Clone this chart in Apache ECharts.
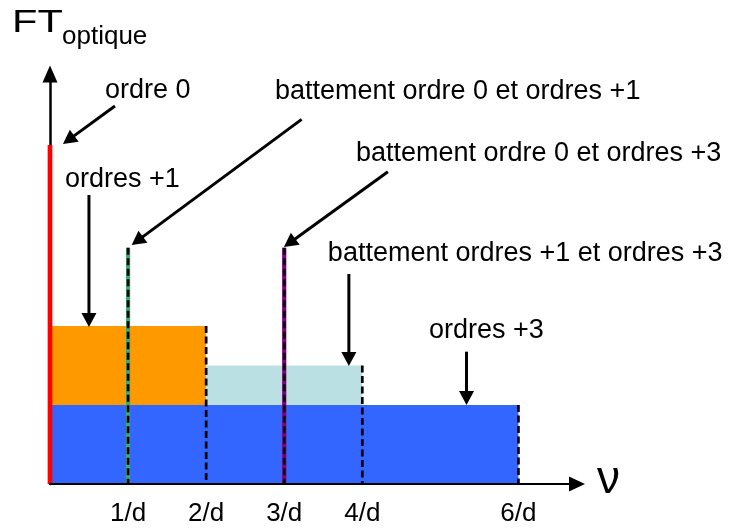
<!DOCTYPE html>
<html><head><meta charset="utf-8">
<script src="https://cdn.jsdelivr.net/npm/echarts@6/dist/echarts.min.js"></script>
<style>html,body{margin:0;padding:0;background:#fff}#c{width:731px;height:531px}</style>
</head><body><div id="c"></div>
<script>
// ---- data ----
const xTickValues = [1, 2, 3, 4, 6];
const xTickLabels = ['1/d', '2/d', '3/d', '4/d', '6/d'];
// spectral blocks (x start, x end, y bottom, y top)
const blockX0 = [0, 0, 2];
const blockX1 = [6, 2, 4];
const blockY0 = [0, 1, 1];
const blockY1 = [1, 2, 1.5];
const blockColors = ['#3366FF', '#FF9900', '#BBE0E3'];
// spectral lines
const lineX = [0, 1, 3];
const lineH = [4.29, 2.99, 2.99];
const lineColors = ['#FF0000', '#3DAA78', '#800080'];
// dashed markers
const dashX = [1, 2, 3, 4, 6];
const dashH = [2.99, 2, 2.99, 1.5, 1];
// annotations
const annoText = ['ordre 0', 'battement ordre 0 et ordres +1', 'ordres +1',
  'battement ordre 0 et ordres +3', 'battement ordres +1 et ordres +3', 'ordres +3'];
const annoX = [0.704, 2.881, 0.192, 3.918, 3.559, 4.853];
const annoY = [4.975, 4.962, 3.848, 4.177, 2.911, 1.937];
// arrows (start -> tip)
const arrowX0 = [0.832, 0.499, 3.223, 4.328, 3.828, 5.335];
const arrowY0 = [4.785, 3.658, 4.616, 3.953, 2.658, 1.675];
const arrowX1 = [0.166, 0.499, 1.046, 2.996, 3.828, 5.335];
const arrowY1 = [4.304, 1.987, 3.025, 3.000, 1.494, 1.000];

const FONT = '"Liberation Sans", Arial, sans-serif';
const chart = echarts.init(document.getElementById('c'));

chart.setOption({
  animation: false,
  backgroundColor: '#fff',
  grid: { left: 50, right: 154, top: 74, bottom: 47, outerBoundsMode: 'none' },
  xAxis: {
    type: 'value', min: 0, max: 6.75, interval: 1, z: 10,
    axisLine: { show: true, onZero: false, lineStyle: { color: '#000', width: 2 },
      symbol: ['none', 'triangle'], symbolSize: [15, 16] },
    axisTick: { show: false }, splitLine: { show: false },
    axisLabel: {
      color: '#000', fontSize: 26, fontFamily: FONT, margin: 17,
      showMinLabel: true, showMaxLabel: false,
      formatter: function (v) { const k = xTickValues.indexOf(v); return k >= 0 ? xTickLabels[k] : ''; }
    }
  },
  yAxis: {
    type: 'value', min: 0, max: 5.19, z: 0,
    axisLine: { show: true, lineStyle: { color: '#000', width: 2.5 },
      symbol: ['none', 'triangle'], symbolSize: [15, 17] },
    axisTick: { show: false }, splitLine: { show: false }, axisLabel: { show: false }
  },
  graphic: [
    { type: 'text', x: 12, y: 23, scaleX: 1.3, style: { text: 'FT', fontSize: 32, fontFamily: FONT, fill: '#000', verticalAlign: 'middle', align: 'left' } },
    { type: 'text', x: 62, y: 37, style: { text: 'optique', fontSize: 26, fontFamily: FONT, fill: '#000', verticalAlign: 'middle', align: 'left' } },
    { type: 'text', x: 597, y: 480, style: { text: 'ν', fontSize: 46, fontFamily: FONT, fill: '#000', verticalAlign: 'middle', align: 'left' } }
  ],
  series: [
    {
      type: 'custom', z: 2,
      data: blockX0.map((x, i) => [blockX0[i], blockY0[i], blockX1[i], blockY1[i]]),
      renderItem: function (params, api) {
        const p0 = api.coord([api.value(0), api.value(3)]);
        const p1 = api.coord([api.value(2), api.value(1)]);
        return { type: 'rect', shape: { x: p0[0], y: p0[1], width: p1[0] - p0[0], height: p1[1] - p0[1] },
          style: { fill: blockColors[params.dataIndex] } };
      }
    },
    {
      type: 'custom', z: 3,
      data: lineX.map((x, i) => [lineX[i], lineH[i]]),
      renderItem: function (params, api) {
        const a = api.coord([api.value(0), 0]);
        const b = api.coord([api.value(0), api.value(1)]);
        return { type: 'line', shape: { x1: a[0], y1: a[1], x2: b[0], y2: b[1] },
          style: { stroke: lineColors[params.dataIndex], lineWidth: params.dataIndex === 0 ? 4.7 : 4.2 } };
      }
    },
    {
      type: 'custom', z: 4,
      data: dashX.map((x, i) => [dashX[i], dashH[i]]),
      renderItem: function (params, api) {
        const a = api.coord([api.value(0), 0]);
        const b = api.coord([api.value(0), api.value(1)]);
        return { type: 'line', shape: { x1: b[0], y1: b[1], x2: a[0], y2: a[1] },
          style: { stroke: '#000', lineWidth: 2.7, lineDash: [7, 3.5] } };
      }
    },
    {
      type: 'custom', z: 5,
      data: arrowX0.map((x, i) => [arrowX0[i], arrowY0[i], arrowX1[i], arrowY1[i]]),
      renderItem: function (params, api) {
        const a = api.coord([api.value(0), api.value(1)]);
        const b = api.coord([api.value(2), api.value(3)]);
        const dx = b[0] - a[0], dy = b[1] - a[1];
        const L = Math.hypot(dx, dy), ux = dx / L, uy = dy / L;
        const hl = 14, hw = 7.5;
        const base = [b[0] - ux * hl, b[1] - uy * hl];
        const l = [base[0] - uy * hw, base[1] + ux * hw];
        const r = [base[0] + uy * hw, base[1] - ux * hw];
        return { type: 'group', children: [
          { type: 'line', shape: { x1: a[0], y1: a[1], x2: base[0] + ux * 2, y2: base[1] + uy * 2 },
            style: { stroke: '#000', lineWidth: 3 } },
          { type: 'polygon', shape: { points: [b, l, r] }, style: { fill: '#000' } }
        ] };
      }
    },
    {
      type: 'custom', z: 6,
      data: annoX.map((x, i) => [annoX[i], annoY[i]]),
      renderItem: function (params, api) {
        const p = api.coord([api.value(0), api.value(1)]);
        return { type: 'text', x: p[0], y: p[1],
          style: { text: annoText[params.dataIndex], fontSize: 27, fontFamily: FONT, fill: '#000',
            align: 'left', verticalAlign: 'middle' } };
      }
    }
  ]
});
</script>
</body></html>
